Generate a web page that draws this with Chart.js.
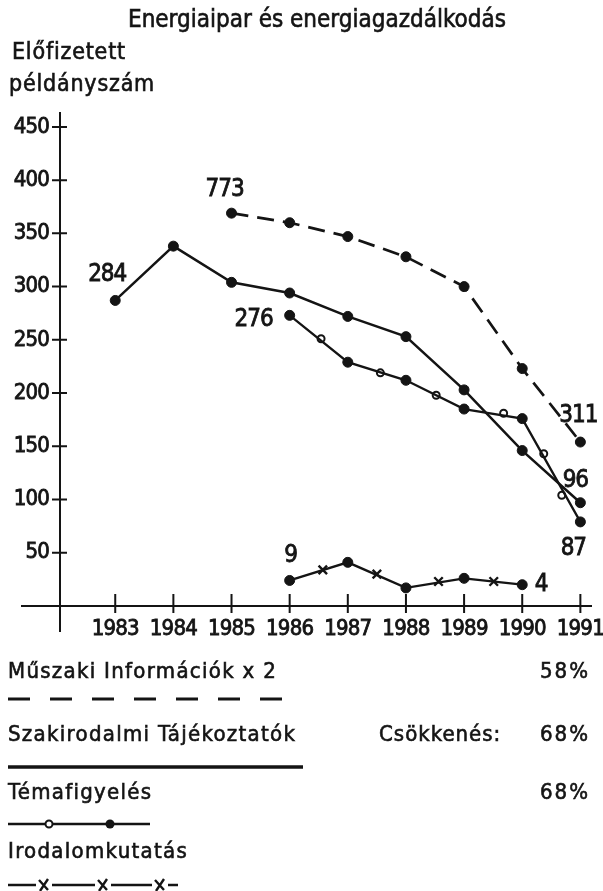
<!DOCTYPE html>
<html lang="hu">
<head>
<meta charset="utf-8">
<title>Energiaipar és energiagazdálkodás</title>
<script src="https://cdn.jsdelivr.net/npm/chart.js@4.4.1/dist/chart.umd.min.js"></script>
<style>
    html, body { margin: 0; padding: 0; background: #fff; }
    #page {
        position: relative; width: 603px; height: 891px; overflow: hidden;
        font-family: "DejaVu Sans Condensed", "Liberation Sans", sans-serif; color: #141414;
    }
    #page canvas, #page svg { position: absolute; left: 0; top: 0; }
    .t { position: absolute; line-height: 1; white-space: nowrap; -webkit-text-stroke: 0.6px #141414; }
    #title { left: 128px; top: 7px; font-size: 24px; letter-spacing: 0; }
    .ytitle { font-size: 23px; letter-spacing: 0.8px; }
    .leg { font-size: 22px; letter-spacing: 1.3px; }
    .pct { font-size: 22px; text-align: right; letter-spacing: 2px; }
</style>
</head>
<body>
<div id="page">
    <canvas id="chart" width="603" height="891"></canvas>
    <svg id="samples" width="603" height="891"></svg>
    <div class="t" id="title">Energiaipar és energiagazdálkodás</div>
    <div class="t ytitle" style="left:12px; top:40px">Előfizetett</div>
    <div class="t ytitle" style="left:9px; top:72px">példányszám</div>
    <div id="legend"></div>
</div>
<script>
// --- adatok -------------------------------------------------------------
const YEARS = [1983, 1984, 1985, 1986, 1987, 1988, 1989, 1990, 1991];
const Y_TICKS = [50, 100, 150, 200, 250, 300, 350, 400, 450];

const SERIES_NAMES = [
    "Műszaki Információk x 2",
    "Szakirodalmi Tájékoztatók",
    "Témafigyelés",
    "Irodalomkutatás",
];
const DECREASE = ["58%", "68%", "68%", ""];
const DECREASE_TITLE = "Csökkenés:";

// Műszaki Információk (kétszeres léptékben rajzolva)
const MUSZAKI_YEARS = [1985, 1986, 1987, 1988, 1989, 1990, 1991];
const MUSZAKI = [369, 360, 347, 328, 300, 223, 154];
const MUSZAKI_NOTES = ["773", "311"];

const SZAK_YEARS = [1983, 1984, 1985, 1986, 1987, 1988, 1989, 1990, 1991];
const SZAK = [287, 338, 304, 294, 272, 253, 203, 146, 97];
const SZAK_NOTES = ["284", "96"];

const TEMA_YEARS = [1986, 1987, 1988, 1989, 1990, 1991];
const TEMA = [273, 229, 212, 185, 176, 79];
const TEMA_NOTES = ["276", "87"];
// a vonalon levő kis üres karikák
const TEMA_MID_YEARS = [1986.54, 1987.56, 1988.52, 1989.68, 1990.37, 1990.68];
const TEMA_MID = [251, 219, 198, 181, 143, 104];

const IROD_YEARS = [1986, 1987, 1988, 1989, 1990];
const IROD = [24, 41, 17, 26, 20];
const IROD_NOTES = ["9", "4"];
// a vonalon levő x jelek
const IROD_MID_YEARS = [1986.57, 1987.5, 1988.56, 1989.51];
const IROD_MID = [34, 30, 23, 23];

// --- megjelenés ---------------------------------------------------------
const INK = "#141414";
const NUM_FONT = '"DejaVu Sans Condensed", "Liberation Sans", sans-serif';

// a szám-feliratok eltolása az első / utolsó ponttól [dx, dy]
const NOTE_OFFSETS = [
    [[-7, -17], [-2, -20]],
    [[-8, -19], [-5, -16]],
    [[-36, 11], [-7, 33]],
    [[1, -18], [19, 6]],
];

function points(xs, ys) {
    return xs.map((x, i) => ({ x: x, y: ys[i] }));
}

// keskenyebb számjegyek a vásznon
const tightTextPlugin = {
    id: "tightText",
    beforeDraw(chart) {
        chart.ctx.letterSpacing = "-0.8px";
    },
};

// tengelyek: a skálákról olvasva, a metszésponton túlnyúlva
const axesPlugin = {
    id: "crossAxes",
    beforeDatasetsDraw(chart) {
        const { ctx, scales } = chart;
        const xs = scales.x;
        const ys = scales.y;
        const x0 = xs.left;
        const y0 = ys.getPixelForValue(0);
        ctx.save();
        ctx.strokeStyle = INK;
        ctx.lineWidth = 2;
        ctx.beginPath();
        ctx.moveTo(x0, ys.top);
        ctx.lineTo(x0, y0 + 26);
        ctx.moveTo(x0 - 39, y0);
        ctx.lineTo(xs.right, y0);
        Y_TICKS.forEach((v) => {
            const py = ys.getPixelForValue(v);
            ctx.moveTo(x0 - 8, py);
            ctx.lineTo(x0 + 7, py);
        });
        YEARS.forEach((v) => {
            const px = xs.getPixelForValue(v);
            ctx.moveTo(px, y0 - 12);
            ctx.lineTo(px, y0 + 7);
        });
        ctx.stroke();
        ctx.restore();
    },
};

const notesPlugin = {
    id: "pointNotes",
    afterDatasetsDraw(chart) {
        const ctx = chart.ctx;
        ctx.save();
        ctx.font = "24px " + NUM_FONT;
        ctx.letterSpacing = "-1px";
        ctx.fillStyle = INK;
        ctx.strokeStyle = INK;
        ctx.lineWidth = 0.8;
        ctx.textAlign = "center";
        ctx.textBaseline = "alphabetic";
        chart.data.datasets.forEach((ds, i) => {
            if (!ds.notes) return;
            const pts = chart.getDatasetMeta(i).data;
            const ends = [pts[0], pts[pts.length - 1]];
            ds.notes.forEach((txt, k) => {
                const off = NOTE_OFFSETS[i][k];
                ctx.strokeText(txt, ends[k].x + off[0], ends[k].y + off[1]);
                ctx.fillText(txt, ends[k].x + off[0], ends[k].y + off[1]);
            });
        });
        ctx.restore();
    },
};

function renderChart() {
    const ctx = document.getElementById("chart").getContext("2d");

    const base = {
        borderColor: INK,
        pointBackgroundColor: INK,
        pointBorderColor: INK,
        pointBorderWidth: 1,
        pointRadius: 5,
        fill: false,
        tension: 0,
    };

    const datasets = [
        Object.assign({}, base, {
            label: SERIES_NAMES[0],
            data: points(MUSZAKI_YEARS, MUSZAKI),
            notes: MUSZAKI_NOTES,
            borderWidth: 2.7,
            borderDash: [17, 9],
        }),
        Object.assign({}, base, {
            label: SERIES_NAMES[1],
            data: points(SZAK_YEARS, SZAK),
            notes: SZAK_NOTES,
            borderWidth: 2.5,
        }),
        Object.assign({}, base, {
            label: SERIES_NAMES[2],
            data: points(TEMA_YEARS, TEMA),
            notes: TEMA_NOTES,
            borderWidth: 2.3,
        }),
        Object.assign({}, base, {
            label: SERIES_NAMES[3],
            data: points(IROD_YEARS, IROD),
            notes: IROD_NOTES,
            borderWidth: 2.3,
        }),
        {
            label: SERIES_NAMES[2] + " (jelek)",
            data: points(TEMA_MID_YEARS, TEMA_MID),
            showLine: false,
            pointStyle: "circle",
            pointRadius: 3.5,
            pointBackgroundColor: "#fff",
            pointBorderColor: INK,
            pointBorderWidth: 2,
        },
        {
            label: SERIES_NAMES[3] + " (jelek)",
            data: points(IROD_MID_YEARS, IROD_MID),
            showLine: false,
            pointStyle: "crossRot",
            pointRadius: 6,
            pointBorderColor: INK,
            pointBorderWidth: 2.4,
        },
    ];

    const tickFont = { family: NUM_FONT, size: 22 };

    new Chart(ctx, {
        type: "line",
        data: { datasets: datasets },
        options: {
            responsive: false,
            animation: false,
            events: [],
            layout: { padding: { top: 112, right: 11, left: 0, bottom: 0 } },
            plugins: {
                legend: { display: false },
                tooltip: { enabled: false },
                title: { display: false },
            },
            scales: {
                x: {
                    type: "linear",
                    min: 1982.05,
                    max: 1991.2,
                    grid: { display: false, drawTicks: false },
                    border: { display: false },
                    afterBuildTicks: (scale) => {
                        scale.ticks = YEARS.map((v) => ({ value: v }));
                    },
                    afterFit: (scale) => {
                        scale.height = 891 - 606;
                        scale.paddingLeft = 0;
                        scale.paddingRight = 0;
                    },
                    ticks: {
                        padding: 10,
                        color: INK,
                        textStrokeColor: INK,
                        textStrokeWidth: 0.8,
                        font: tickFont,
                        callback: (v) => String(v),
                        autoSkip: false,
                        maxRotation: 0,
                    },
                },
                y: {
                    type: "linear",
                    min: 0,
                    max: 464,
                    grid: { display: false, drawTicks: false },
                    border: { display: false },
                    afterBuildTicks: (scale) => {
                        scale.ticks = Y_TICKS.map((v) => ({ value: v }));
                    },
                    afterFit: (scale) => {
                        scale.width = 60;
                    },
                    ticks: {
                        padding: 11,
                        color: INK,
                        textStrokeColor: INK,
                        textStrokeWidth: 0.8,
                        font: tickFont,
                        callback: (v) => String(v),
                    },
                },
            },
        },
        plugins: [tightTextPlugin, axesPlugin, notesPlugin],
    });
}

// jelmagyarázat: szövegsorok és vonalminták
function renderLegend() {
    const holder = document.getElementById("legend");
    const baselines = [680, 743, 801, 860];
    const sampleY = [699, 767, 824, 885];
    const fs = 22;

    SERIES_NAMES.forEach((name, i) => {
        const top = baselines[i] - Math.round(fs * 0.93);
        const d = document.createElement("div");
        d.className = "t leg";
        d.style.left = "8px";
        d.style.top = top + "px";
        d.textContent = name;
        holder.appendChild(d);
        if (DECREASE[i]) {
            const p = document.createElement("div");
            p.className = "t pct";
            p.style.right = "13px";
            p.style.top = top + "px";
            p.textContent = DECREASE[i];
            holder.appendChild(p);
        }
    });
    const c = document.createElement("div");
    c.className = "t leg";
    c.style.left = "379px";
    c.style.letterSpacing = "1px";
    c.style.top = baselines[1] - Math.round(fs * 0.93) + "px";
    c.textContent = DECREASE_TITLE;
    holder.appendChild(c);

    const s = [];
    const line = (x1, x2, y, w, dash) =>
        s.push(`<line x1="${x1}" y1="${y}" x2="${x2}" y2="${y}" stroke="${INK}" stroke-width="${w}"${dash ? ` stroke-dasharray="${dash}"` : ""}/>`);
    const cross = (x, y) =>
        s.push(`<path d="M${x - 4} ${y + 6} L${x + 4} ${y - 6} M${x - 5} ${y - 5} L${x + 4} ${y + 5}" stroke="${INK}" stroke-width="2.4" fill="none"/>`);

    line(8, 288, sampleY[0], 3, "22 20");
    line(8, 303, sampleY[1], 3.5);
    line(8, 150, sampleY[2], 2.5);
    s.push(`<circle cx="49" cy="${sampleY[2]}" r="3.5" fill="#fff" stroke="${INK}" stroke-width="2"/>`);
    s.push(`<circle cx="110" cy="${sampleY[2]}" r="4.5" fill="${INK}"/>`);
    line(8, 36, sampleY[3], 2.5);
    line(52, 95, sampleY[3], 2.5);
    line(111, 152, sampleY[3], 2.5);
    line(168, 178, sampleY[3], 2.5);
    cross(44, sampleY[3]);
    cross(103, sampleY[3]);
    cross(160, sampleY[3]);
    document.getElementById("samples").innerHTML = s.join("");
}

document.addEventListener("DOMContentLoaded", () => {
    renderChart();
    renderLegend();
});
</script>
</body>
</html>
